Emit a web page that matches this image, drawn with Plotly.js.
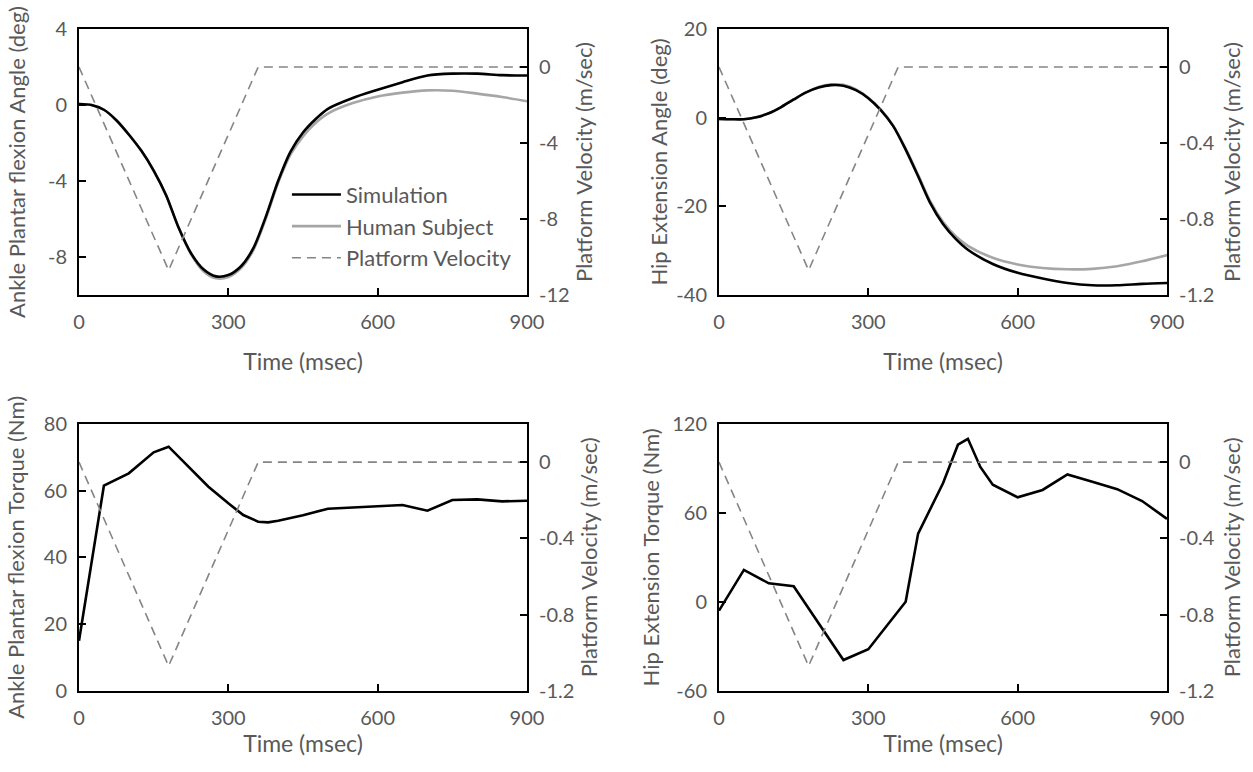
<!DOCTYPE html>
<html>
<head>
<meta charset="utf-8">
<script src="https://cdn.plot.ly/plotly-3.0.1.min.js"></script>
<style>
  html, body { margin: 0; padding: 0; background: #ffffff; }
  #chart { width: 1253px; height: 772px; }
</style>
</head>
<body>
<div id="chart"></div>
<script>
// Time base (msec) for the joint angle curves
const angleTime = [0, 25, 50, 75, 100, 125, 150, 175, 200, 225, 250, 275, 300, 325, 350, 375, 400, 425, 450, 475, 500, 550, 600, 650, 700, 750, 800, 850, 900];

// Ankle plantar flexion angle (deg)
const ankleAngleSim   = [0.05, 0.0, -0.25, -0.8, -1.55, -2.4, -3.45, -4.75, -6.45, -7.8, -8.65, -9.02, -8.95, -8.5, -7.55, -5.9, -4.0, -2.45, -1.45, -0.75, -0.2, 0.37, 0.8, 1.2, 1.55, 1.65, 1.65, 1.57, 1.55];
const ankleAngleHuman = [0.05, 0.0, -0.25, -0.8, -1.55, -2.4, -3.45, -4.75, -6.45, -7.85, -8.75, -9.12, -9.05, -8.6, -7.65, -6.0, -4.1, -2.6, -1.65, -0.95, -0.45, 0.1, 0.45, 0.65, 0.77, 0.75, 0.6, 0.42, 0.2];

// Hip extension angle (deg)
const hipAngleSim   = [-0.3, -0.35, -0.35, 0.1, 1.0, 2.4, 4.1, 5.7, 6.8, 7.35, 7.2, 6.2, 4.4, 1.7, -1.9, -7.2, -13.2, -19.4, -24.0, -27.3, -29.8, -33.0, -35.0, -36.3, -37.3, -37.8, -37.8, -37.5, -37.3];
const hipAngleHuman = [-0.3, -0.35, -0.35, 0.1, 1.0, 2.4, 4.1, 5.7, 6.9, 7.5, 7.4, 6.4, 4.5, 1.8, -1.8, -7.0, -12.9, -19.0, -23.5, -26.7, -28.9, -31.6, -33.1, -33.9, -34.2, -34.1, -33.5, -32.4, -31.0];

// Ankle plantar flexion torque (Nm), simulation
const ankleTorqueTime = [0, 50, 100, 130, 150, 180, 220, 260, 300, 330, 360, 380, 400, 450, 500, 550, 600, 650, 700, 750, 800, 850, 900];
const ankleTorque     = [15, 61.5, 65.2, 69, 71.5, 73.2, 67.2, 61.2, 56.2, 52.7, 50.7, 50.5, 51, 52.6, 54.6, 55.0, 55.3, 55.7, 54.0, 57.2, 57.4, 56.8, 57.0];

// Hip extension torque (Nm), simulation
const hipTorqueTime = [0, 50, 100, 150, 250, 300, 375, 400, 450, 480, 500, 525, 550, 600, 650, 700, 750, 800, 850, 900];
const hipTorque     = [-6, 21.5, 12.5, 10.5, -39.3, -32, 0, 46, 80, 106, 110, 91, 79, 70.5, 75.5, 86, 81, 76, 68, 56];

// Platform velocity profile (m/sec)
const velocityTime = [0, 180, 360, 900];
const velocity     = [0, -1.07, 0, 0];
// same profile as drawn against the -12..0 scale of the ankle angle panel
const velocityScaled = [0, -10.7, 0, 0];

// Tick values and their printed labels (plain hyphen minus signs)
const timeTicks = [0, 300, 600, 900];
const ankleAngleTicks = [4, 0, -4, -8];
const hipAngleTicks = [20, 0, -20, -40];
const ankleTorqueTicks = [0, 20, 40, 60, 80];
const hipTorqueTicks = [-60, 0, 60, 120];
const velTicks = [0, -0.4, -0.8, -1.2];
const velTicksScaled = [0, -4, -8, -12];

const label = v => String(v).replace('\u2212', '-');

const textGray = '#595959';
const FONT = 'Lato, "Open Sans", sans-serif';

const simLine   = {color: '#000000', width: 2.6};
const humanLine = {color: '#a6a6a6', width: 2.6};
const velLine   = {color: '#858585', width: 1.6, dash: '9px,6px'};
const smooth = {shape: 'spline', smoothing: 0.8};

const traces = [
  // Panel 1: ankle angle
  {x: angleTime, y: ankleAngleHuman, xaxis: 'x', yaxis: 'y', mode: 'lines', line: Object.assign({}, smooth, humanLine),
   name: 'Human Subject', legendgroup: 'h', legendrank: 2},
  {x: angleTime, y: ankleAngleSim, xaxis: 'x', yaxis: 'y', mode: 'lines', line: Object.assign({}, smooth, simLine),
   name: 'Simulation', legendgroup: 's', legendrank: 1},
  {x: velocityTime, y: velocityScaled, xaxis: 'x', yaxis: 'y2', mode: 'lines', line: velLine,
   name: 'Platform Velocity', legendgroup: 'v', legendrank: 3},

  // Panel 2: hip angle
  {x: angleTime, y: hipAngleHuman, xaxis: 'x2', yaxis: 'y3', mode: 'lines', line: Object.assign({}, smooth, humanLine), showlegend: false},
  {x: angleTime, y: hipAngleSim, xaxis: 'x2', yaxis: 'y3', mode: 'lines', line: Object.assign({}, smooth, simLine), showlegend: false},
  {x: velocityTime, y: velocity, xaxis: 'x2', yaxis: 'y4', mode: 'lines', line: velLine, showlegend: false},

  // Panel 3: ankle torque
  {x: ankleTorqueTime, y: ankleTorque, xaxis: 'x3', yaxis: 'y5', mode: 'lines', line: simLine, showlegend: false},
  {x: velocityTime, y: velocity, xaxis: 'x3', yaxis: 'y6', mode: 'lines', line: velLine, showlegend: false},

  // Panel 4: hip torque
  {x: hipTorqueTime, y: hipTorque, xaxis: 'x4', yaxis: 'y7', mode: 'lines', line: simLine, showlegend: false},
  {x: velocityTime, y: velocity, xaxis: 'x4', yaxis: 'y8', mode: 'lines', line: velLine, showlegend: false}
];

const W = 1253, H = 772;
const colL = [79 / W, 527 / W];
const colR = [719 / W, 1167 / W];
const rowT = [1 - 295 / H, 1 - 29 / H];
const rowB = [1 - 690.7 / H, 1 - 424 / H];

const tickFont = {family: FONT, size: 20, color: textGray};
const xTitleFont = {family: FONT, size: 23, color: textGray};
const yTitleFont = {family: FONT, size: 22, color: textGray};

const frame = {
  showline: true, linecolor: '#000000', linewidth: 2,
  ticks: 'inside', ticklen: 7, tickwidth: 2, tickcolor: '#000000',
  showgrid: false, zeroline: false, tickfont: tickFont
};

function xAxis(domain, anchor, standoff) {
  return Object.assign({}, frame, {
    domain: domain, anchor: anchor, range: [0, 900], mirror: true,
    tickvals: timeTicks, ticktext: timeTicks.map(label), ticklabelstandoff: 8,
    title: {text: 'Time (msec)', font: xTitleFont, standoff: standoff}
  });
}
function yLeft(domain, anchor, range, ticks, title, standoff) {
  return Object.assign({}, frame, {
    domain: domain, anchor: anchor, range: range, mirror: true,
    tickvals: ticks, ticktext: ticks.map(label), ticklabelstandoff: 6,
    title: {text: title, font: yTitleFont, standoff: standoff}
  });
}
function yRight(overlay, anchor, range, ticks, standoff) {
  return Object.assign({}, frame, {
    overlaying: overlay, anchor: anchor, side: 'right', range: range,
    tickvals: ticks, ticktext: ticks.map(label), ticklabelstandoff: 6,
    title: {text: 'Platform Velocity (m/sec)', font: yTitleFont, standoff: standoff}
  });
}

const layout = {
  width: W, height: H,
  margin: {l: 0, r: 0, t: 0, b: 0},
  paper_bgcolor: '#ffffff', plot_bgcolor: '#ffffff',
  font: {family: FONT, color: textGray},
  showlegend: true,
  legend: {
    x: 0.229, y: 0.775, xanchor: 'left', yanchor: 'top',
    bgcolor: 'rgba(0,0,0,0)', borderwidth: 0,
    font: {family: FONT, size: 22, color: textGray},
    traceorder: 'grouped', tracegroupgap: 0, itemwidth: 49
  },
  xaxis:  xAxis(colL, 'y', 22),
  yaxis:  yLeft(rowT, 'x', [-10, 4], ankleAngleTicks, 'Ankle Plantar flexion Angle (deg)', 16),
  yaxis2: yRight('y', 'x', [-12, 2], velTicksScaled, 8),

  xaxis2: xAxis(colR, 'y3', 22),
  yaxis3: yLeft(rowT, 'x2', [-40, 20], hipAngleTicks, 'Hip Extension Angle (deg)', 3),
  yaxis4: yRight('y3', 'x2', [-1.2, 0.2], velTicks, 11),

  xaxis3: xAxis(colL, 'y5', 8),
  yaxis5: yLeft(rowB, 'x3', [0, 80], ankleTorqueTicks, 'Ankle Plantar flexion Torque (Nm)', 13),
  yaxis6: yRight('y5', 'x3', [-1.2, 0.2], velTicks, 6),

  xaxis4: xAxis(colR, 'y7', 8),
  yaxis7: yLeft(rowB, 'x4', [-60, 120], hipTorqueTicks, 'Hip Extension Torque (Nm)', 6),
  yaxis8: yRight('y7', 'x4', [-1.2, 0.2], velTicks, 11)
};

Plotly.newPlot('chart', traces, layout, {displayModeBar: false, staticPlot: true});
</script>
</body>
</html>
